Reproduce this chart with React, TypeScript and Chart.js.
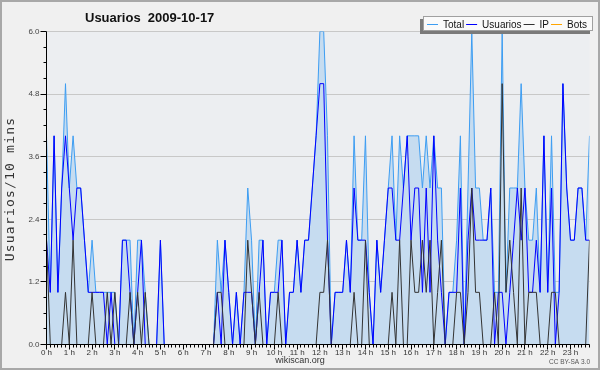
import React, { useEffect, useRef } from "react";
import { Chart, registerables } from "chart.js";

Chart.register(...registerables);

const HOUR_LABELS = [
  "0 h", "1 h", "2 h", "3 h", "4 h", "5 h", "6 h", "7 h", "8 h", "9 h", "10 h", "11 h",
  "12 h", "13 h", "14 h", "15 h", "16 h", "17 h", "18 h", "19 h", "20 h", "21 h", "22 h", "23 h",
];

const Y_TICKS = [0, 1.2, 2.4, 3.6, 4.8, 6.0];

// one value per 10 minutes (144 slots)
const TOTAL = [
  4, 1, 4, 1, 3, 5, 3, 4, 3, 3,
  2, 1, 2, 1, 1, 1, 1, 1, 1, 0,
  2, 2, 2, 0, 2, 2, 1, 0, 0, 0,
  2, 0, 0, 0, 0, 0, 0, 0, 0, 0,
  0, 0, 0, 0, 0, 2, 1, 2, 1, 0,
  1, 0, 1, 3, 2, 0, 2, 2, 0, 1,
  1, 2, 2, 0, 1, 1, 2, 1, 2, 2,
  3, 4, 6, 6, 4, 0, 1, 1, 1, 2,
  1, 4, 2, 2, 4, 1, 0, 2, 1, 2,
  3, 4, 2, 4, 3, 4, 4, 4, 4, 3,
  4, 3, 4, 3, 3, 0, 1, 1, 2, 4,
  0, 3, 6, 3, 3, 2, 2, 3, 1, 1,
  6, 1, 3, 3, 3, 5, 3, 2, 2, 3,
  1, 4, 1, 4, 1, 1, 5, 3, 2, 2,
  3, 3, 2, 4,
];

const USUARIOS = [
  2, 1, 4, 1, 3, 4, 3, 2, 3, 3,
  2, 1, 1, 1, 1, 1, 0, 1, 0, 0,
  2, 2, 1, 0, 1, 2, 0, 0, 0, 0,
  2, 0, 0, 0, 0, 0, 0, 0, 0, 0,
  0, 0, 0, 0, 0, 1, 0, 2, 1, 0,
  1, 0, 1, 1, 1, 0, 1, 2, 0, 1,
  1, 1, 2, 0, 1, 1, 2, 1, 2, 2,
  3, 4, 5, 5, 2, 0, 1, 1, 1, 2,
  1, 3, 2, 2, 2, 1, 0, 2, 1, 2,
  3, 3, 2, 2, 3, 4, 2, 3, 3, 1,
  3, 1, 4, 2, 1, 0, 1, 1, 1, 3,
  0, 2, 3, 2, 2, 2, 2, 3, 0, 1,
  1, 0, 1, 2, 3, 2, 3, 1, 1, 2,
  1, 4, 1, 3, 0, 1, 5, 3, 2, 2,
  3, 3, 2, 2,
];

const IP = [
  2, 0, 0, 0, 0, 1, 0, 2, 0, 0,
  0, 0, 1, 0, 0, 0, 1, 0, 1, 0,
  0, 0, 1, 0, 1, 0, 1, 0, 0, 0,
  0, 0, 0, 0, 0, 0, 0, 0, 0, 0,
  0, 0, 0, 0, 0, 1, 1, 0, 0, 0,
  0, 0, 0, 2, 1, 0, 1, 0, 0, 0,
  0, 1, 0, 0, 0, 0, 0, 0, 0, 0,
  0, 0, 1, 1, 2, 0, 0, 0, 0, 0,
  0, 1, 0, 0, 2, 0, 0, 0, 0, 0,
  0, 1, 0, 2, 0, 0, 2, 1, 1, 2,
  1, 2, 0, 1, 2, 0, 0, 0, 1, 1,
  0, 1, 3, 1, 1, 0, 0, 0, 1, 0,
  5, 1, 2, 1, 0, 3, 0, 1, 1, 1,
  0, 0, 0, 1, 1, 0, 0, 0, 0, 0,
  0, 0, 0, 2,
];

const BOTS = [
  0, 0, 0, 0, 0, 0, 0, 0, 0, 0,
  0, 0, 0, 0, 0, 0, 0, 0, 0, 0,
  0, 0, 0, 0, 0, 0, 0, 0, 0, 0,
  0, 0, 0, 0, 0, 0, 0, 0, 0, 0,
  0, 0, 0, 0, 0, 0, 0, 0, 0, 0,
  0, 0, 0, 0, 0, 0, 0, 0, 0, 0,
  0, 0, 0, 0, 0, 0, 0, 0, 0, 0,
  0, 0, 0, 0, 0, 0, 0, 0, 0, 0,
  0, 0, 0, 0, 0, 0, 0, 0, 0, 0,
  0, 0, 0, 0, 0, 0, 0, 0, 0, 0,
  0, 0, 0, 0, 0, 0, 0, 0, 0, 0,
  0, 0, 0, 0, 0, 0, 0, 0, 0, 0,
  0, 0, 0, 0, 0, 0, 0, 0, 0, 0,
  0, 0, 0, 0, 0, 0, 0, 0, 0, 0,
  0, 0, 0, 0,
];

const SERIES = [
  { label: "Total", values: TOTAL, color: "#3d9df2" },
  { label: "Usuarios", values: USUARIOS, color: "#0000ff" },
  { label: "IP", values: IP, color: "#333333" },
  { label: "Bots", values: BOTS, color: "#ffa500" },
];

const TITLE = "Usuarios  2009-10-17";
const Y_TITLE = "Usuarios/10 mins";
const FOOTER = "wikiscan.org";
const LICENSE = "CC BY-SA 3.0";

const SANS = '"Liberation Sans", Arial, sans-serif';

const toPoints = (arr: number[]) => arr.map((v, i) => ({ x: i, y: v }));

const decorPlugin = {
  id: "decor",
  beforeDraw(chart: any) {
    const { ctx, chartArea: a } = chart;
    ctx.save();
    ctx.fillStyle = "#f0f0f0";
    ctx.fillRect(0, 0, chart.width, chart.height);
    ctx.fillStyle = "#eceef1";
    ctx.fillRect(a.left, a.top, a.right - a.left, a.bottom - a.top);
    ctx.restore();
  },
  afterDatasetsDraw(chart: any) {
    const { ctx, chartArea: a } = chart;
    const xs = chart.scales.x;
    const ys = chart.scales.y;
    ctx.save();
    ctx.strokeStyle = "#000000";
    ctx.lineWidth = 1;
    ctx.beginPath();
    ctx.moveTo(a.left, a.top);
    ctx.lineTo(a.left, a.bottom);
    ctx.lineTo(a.right, a.bottom);
    ctx.stroke();
    // x ticks: one per 10-minute slot, longer on the hour
    ctx.beginPath();
    for (let i = 0; i < TOTAL.length; i++) {
      const px = Math.floor(xs.getPixelForValue(i)) + 0.5;
      const len = i % 6 === 0 ? 5 : 3;
      ctx.moveTo(px, a.bottom);
      ctx.lineTo(px, a.bottom + len);
    }
    // y ticks: major every 1.2, minor every 0.3
    for (let k = 0; k <= 20; k++) {
      const v = k * 0.3;
      const py = Math.floor(ys.getPixelForValue(v)) + 0.5;
      const len = k % 4 === 0 ? 6 : 3;
      ctx.moveTo(a.left - len, py);
      ctx.lineTo(a.left, py);
    }
    ctx.stroke();
    ctx.restore();
  },
  afterDraw(chart: any) {
    const { ctx } = chart;
    ctx.save();
    // title
    ctx.fillStyle = "#111111";
    ctx.font = `bold 13px ${SANS}`;
    ctx.textAlign = "left";
    ctx.textBaseline = "alphabetic";
    ctx.fillText(TITLE, 85, 21.5);

    // y-axis title
    ctx.save();
    ctx.translate(11, 189);
    ctx.rotate(-Math.PI / 2);
    ctx.font = '13px "DejaVu Sans Mono", monospace';
    try {
      (ctx as any).letterSpacing = "1.2px";
    } catch (e) {
      /* ignore */
    }
    ctx.textAlign = "center";
    ctx.textBaseline = "middle";
    ctx.fillStyle = "#333333";
    ctx.fillText(Y_TITLE, 0, 0);
    ctx.restore();

    // footer
    ctx.font = `9px ${SANS}`;
    ctx.fillStyle = "#333333";
    ctx.textAlign = "center";
    ctx.textBaseline = "middle";
    ctx.fillText(FOOTER, 300, 361);
    ctx.font = `6.5px ${SANS}`;
    ctx.fillStyle = "#555555";
    ctx.textAlign = "right";
    ctx.fillText(LICENSE, 590, 362);

    // legend
    const bx = 423, by = 16, bw = 170, bh = 15;
    ctx.fillStyle = "#7a7a7a";
    ctx.fillRect(bx - 3, by + 3, bw, bh);
    ctx.fillStyle = "#fafafa";
    ctx.fillRect(bx, by, bw, bh);
    ctx.strokeStyle = "#a0a0a0";
    ctx.lineWidth = 1;
    ctx.strokeRect(bx + 0.5, by + 0.5, bw - 1, bh - 1);
    ctx.font = `10px ${SANS}`;
    ctx.textAlign = "left";
    ctx.textBaseline = "alphabetic";
    let x = 427;
    const ly = 24.5;
    for (const s of SERIES) {
      ctx.strokeStyle = s.color;
      ctx.beginPath();
      ctx.moveTo(x, ly);
      ctx.lineTo(x + 11, ly);
      ctx.stroke();
      ctx.fillStyle = "#111111";
      ctx.fillText(s.label, x + 16, 28);
      x += 16 + ctx.measureText(s.label).width + 2;
    }

    // frame
    ctx.strokeStyle = "#a8a8a8";
    ctx.lineWidth = 2;
    ctx.strokeRect(1, 1, chart.width - 2, chart.height - 2);
    ctx.restore();
  },
};

export default function App() {
  const canvasRef = useRef<HTMLCanvasElement | null>(null);

  useEffect(() => {
    document.body.style.margin = "0";
    const canvas = canvasRef.current;
    if (!canvas) return;
    const orders = [4, 3, 2, 1];
    const chart = new Chart(canvas, {
      type: "line",
      data: {
        datasets: SERIES.map((s, idx) => ({
          label: s.label,
          data: toPoints(s.values),
          borderColor: s.color,
          backgroundColor: idx === 0 ? "#c6dcf0" : s.color,
          fill: idx === 0 ? "origin" : false,
          borderWidth: 1,
          pointRadius: 0,
          tension: 0,
          order: orders[idx],
        })),
      },
      options: {
        responsive: false,
        animation: false,
        devicePixelRatio: 1,
        layout: { padding: { left: 0, right: 10.5, top: 31.5, bottom: 0 } },
        plugins: {
          legend: { display: false },
          title: { display: false },
          tooltip: { enabled: false },
        },
        scales: {
          x: {
            type: "linear",
            min: 0,
            max: TOTAL.length - 1,
            afterFit: (s: any) => {
              s.height = 25.5;
            },
            afterBuildTicks: (s: any) => {
              s.ticks = HOUR_LABELS.map((_, h) => ({ value: h * 6 }));
            },
            grid: { display: false, drawTicks: false },
            border: { display: false },
            ticks: {
              autoSkip: false,
              maxRotation: 0,
              minRotation: 0,
              padding: 3,
              color: "#333333",
              font: { family: SANS, size: 8 },
              callback: (v: any) => HOUR_LABELS[Math.round(Number(v) / 6)],
            },
          },
          y: {
            min: 0,
            max: 6,
            afterFit: (s: any) => {
              s.width = 46.5;
            },
            afterBuildTicks: (s: any) => {
              s.ticks = Y_TICKS.map((v) => ({ value: v }));
            },
            grid: {
              drawTicks: false,
              color: (c: any) => (c.tick && c.tick.value === 0 ? "rgba(0,0,0,0)" : "#c8c8c8"),
            },
            border: { display: false },
            ticks: {
              padding: 7,
              color: "#444444",
              font: { family: SANS, size: 8 },
              callback: (v: any) => Number(v).toFixed(1),
            },
          },
        },
      },
      plugins: [decorPlugin],
    });
    return () => chart.destroy();
  }, []);

  return (
    <div style={{ width: 600, height: 370 }}>
      <canvas ref={canvasRef} width={600} height={370} style={{ display: "block" }} />
    </div>
  );
}
